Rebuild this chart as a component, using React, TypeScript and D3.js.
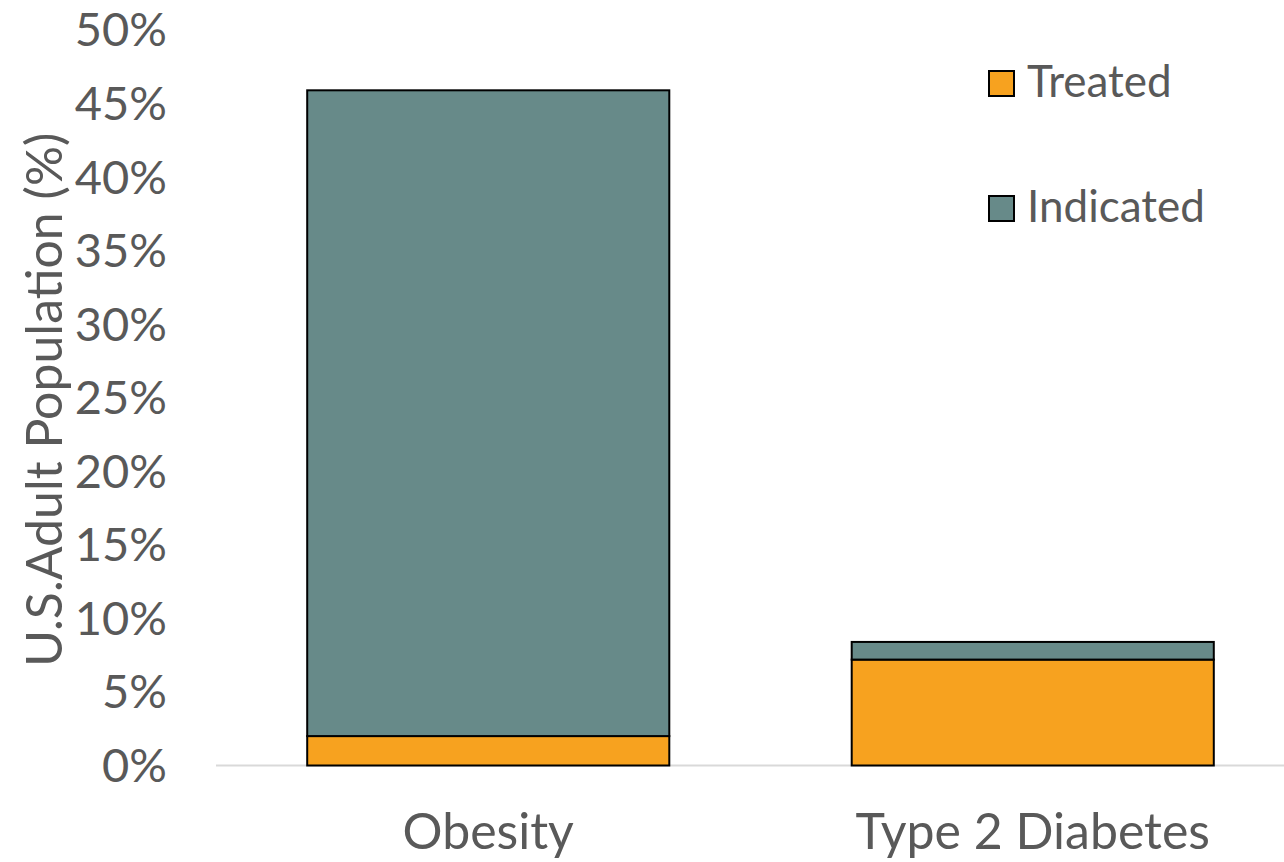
import React from "react";
import * as d3 from "d3";

const categories = ["Obesity", "Type 2 Diabetes"];
const treated = [2.0, 7.2];
const indicated = [45.9, 8.4]; // total height of each stacked bar
const yTicks = [0, 5, 10, 15, 20, 25, 30, 35, 40, 45, 50];
const seriesNames = ["Treated", "Indicated"];
const seriesColors = ["#F7A21F", "#678A89"];

const W = 1284;
const H = 862;
const FONT = "Lato, 'Open Sans', sans-serif";
const TEXT = "#595959";

export default function App() {
  const x = d3.scaleBand<string>().domain(categories).range([216, 1305]).paddingInner(0.335).paddingOuter(0.1675);
  const y = d3.scaleLinear().domain([0, 50]).range([765.5, 30]);

  const rows = categories.map((c, i) => ({ cat: c, treated: treated[i], rest: indicated[i] - treated[i] }));
  const stack = d3.stack<any>().keys(["treated", "rest"])(rows);

  return (
    <svg width={W} height={H} style={{ display: "block", position: "absolute", left: 0, top: 0 }} fontFamily={FONT}>
      <rect width={W} height={H} fill="#fff" />
      {yTicks.map((t) => (
        <text key={t} x={167} y={y(t)} dy="0.35em" textAnchor="end" fontSize={47} fill={TEXT}>
          {t}%
        </text>
      ))}
      <text
        transform={`translate(62,${y(25) + 2}) rotate(-90)`}
        textAnchor="middle"
        fontSize={50}
        fill={TEXT}
      >
        U.S.Adult Population (%)
      </text>
      <line x1={216} x2={W} y1={y(0)} y2={y(0)} stroke="#D9D9D9" strokeWidth={2} />
      {stack.map((layer, si) =>
        layer.map((d, i) => (
          <rect
            key={`${si}-${i}`}
            x={x(categories[i])!}
            width={x.bandwidth()}
            y={y(d[1])}
            height={y(d[0]) - y(d[1])}
            fill={seriesColors[si]}
            stroke="#000"
            strokeWidth={2}
          />
        ))
      )}
      {categories.map((c) => (
        <text key={c} x={x(c)! + x.bandwidth() / 2} y={849} textAnchor="middle" fontSize={50} fill={TEXT}>
          {c}
        </text>
      ))}
      {seriesNames.map((s, i) => (
        <g key={s} transform={`translate(989,${71 + i * 125})`}>
          <rect width={25} height={25} fill={seriesColors[i]} stroke="#000" strokeWidth={2} />
          <text x={38} y={26} fontSize={44} fill={TEXT}>
            {s}
          </text>
        </g>
      ))}
    </svg>
  );
}
